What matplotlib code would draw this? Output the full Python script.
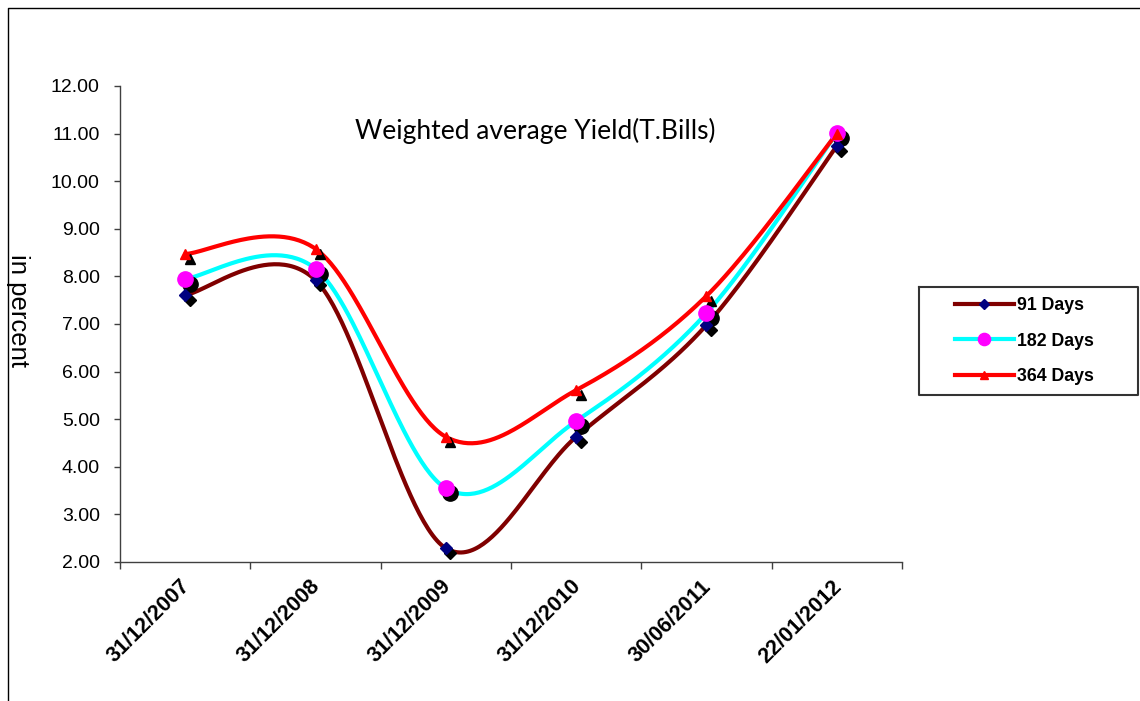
import numpy as np
import matplotlib
matplotlib.use("Agg")
import matplotlib.pyplot as plt
from matplotlib.lines import Line2D
from matplotlib.ticker import MultipleLocator, FormatStrFormatter, FixedLocator, NullFormatter
import matplotlib.transforms as mtransforms

plt.rcParams['font.family'] = ['Liberation Sans', 'DejaVu Sans']

# Data
dates = ["31/12/2007", "31/12/2008", "31/12/2009", "31/12/2010", "30/06/2011", "22/01/2012"]
days_91 = [7.61, 7.92, 2.29, 4.63, 6.98, 10.74]
days_182 = [7.95, 8.16, 3.55, 4.96, 7.23, 11.01]
days_364 = [8.47, 8.58, 4.63, 5.61, 7.59, 11.00]
series_labels = ["91 Days", "182 Days", "364 Days"]


def smooth_curve(xs, ys, n=60):
    """Catmull-Rom style cubic Bezier through the points (spreadsheet 'smoothed line')."""
    P = np.column_stack([xs, ys]).astype(float)
    m = len(P)
    out = []
    for i in range(m - 1):
        p_prev = P[i - 1] if i > 0 else P[i]
        p0 = P[i]
        p1 = P[i + 1]
        p_next = P[i + 2] if i + 2 < m else P[i + 1]
        c1 = p0 + (p1 - p_prev) / 6.0
        c2 = p1 - (p_next - p0) / 6.0
        t = np.linspace(0, 1, n)[:, None]
        seg = ((1 - t) ** 3) * p0 + 3 * ((1 - t) ** 2) * t * c1 + 3 * (1 - t) * t ** 2 * c2 + t ** 3 * p1
        out.append(seg if i == 0 else seg[1:])
    c = np.vstack(out)
    return c[:, 0], c[:, 1]


fig = plt.figure(figsize=(11.4, 7.01), dpi=100)
W, H = 1140, 701
ax = fig.add_axes([120 / W, 1 - 562 / H, (902 - 120) / W, (562 - 86) / H])

x = np.arange(len(dates))

styles = [
    dict(data=days_91, color="#800000", marker="D", mfc="#000080", mec="#000080", ms=6.0),
    dict(data=days_182, color="#00FFFF", marker="o", mfc="#FF00FF", mec="#FF00FF", ms=11.0),
    dict(data=days_364, color="#FF0000", marker="^", mfc="#FF0000", mec="#FF0000", ms=7.0),
]

shadow = mtransforms.offset_copy(ax.transData, fig=fig, x=4.5, y=-5.0, units='dots')

handles = []
for k, st in enumerate(styles):
    sx, sy = smooth_curve(x, st["data"])
    ax.plot(sx, sy, color=st["color"], lw=3.0, solid_capstyle='round', zorder=2 + k * 0.1)
    ax.plot(x, st["data"], ls='none', marker=st["marker"], ms=st["ms"], mfc='black', mec='black',
            transform=shadow, zorder=3 + k * 0.1)
    ax.plot(x, st["data"], ls='none', marker=st["marker"], ms=st["ms"], mfc=st["mfc"], mec=st["mec"],
            zorder=4 + k * 0.1)
    handles.append(Line2D([], [], color=st["color"], lw=3.0, marker=st["marker"],
                          ms=st["ms"] * 0.8, mfc=st["mfc"], mec=st["mec"]))

ax.set_xlim(-0.5, len(dates) - 0.5)
ax.set_ylim(2, 12)

ax.yaxis.set_major_locator(MultipleLocator(1.0))
ax.yaxis.set_major_formatter(FormatStrFormatter('%.2f'))
ax.tick_params(axis='y', direction='out', length=4.5, width=1, color='#404040',
               labelsize=14, pad=10, labelcolor='black')

ax.xaxis.set_major_locator(FixedLocator(np.arange(-0.5, len(dates), 1.0)))
ax.xaxis.set_major_formatter(NullFormatter())
ax.set_xticks(x, minor=True)
ax.set_xticklabels(dates, minor=True, rotation=45, ha='right', fontweight='bold', fontsize=15.5)
ax.tick_params(axis='x', which='major', direction='out', length=5, width=1, color='#404040')
ax.tick_params(axis='x', which='minor', length=0, pad=10)
lab_off = mtransforms.ScaledTranslation(9 / 100, 0, fig.dpi_scale_trans)
for lbl in ax.xaxis.get_minorticklabels():
    lbl.set_transform(lbl.get_transform() + lab_off)

for s in ['top', 'right']:
    ax.spines[s].set_visible(False)
for s in ['left', 'bottom']:
    ax.spines[s].set_color('#404040')
    ax.spines[s].set_linewidth(1.0)

fig.text(535 / W, 1 - 131 / H, "Weighted average Yield(T.Bills)",
         ha='center', va='center', fontsize=19, family=['Lato', 'Liberation Sans'])

fig.text(18 / W, 1 - 310 / H, "in percent", rotation=270, ha='center', va='center', fontsize=18.5)

# Legend frame and entries
fig.add_artist(Line2D([919 / W, 1138 / W, 1138 / W, 919 / W, 919 / W],
                      [1 - 287 / H, 1 - 287 / H, 1 - 395 / H, 1 - 395 / H, 1 - 287 / H],
                      transform=fig.transFigure, color='#333333', lw=1.5))
fig.legend(handles, series_labels, loc='upper left', bbox_to_anchor=(955 / W, 1 - 297 / H),
           bbox_transform=fig.transFigure, frameon=False, borderpad=0, borderaxespad=0,
           handlelength=3.3, handletextpad=0.2, labelspacing=1.05,
           prop=dict(weight='bold', size=12.8))

# Outer border of the chart area
fig.add_artist(Line2D([8 / W, 8 / W, 1.0], [0.0, 1 - 8 / H, 1 - 8 / H],
                      transform=fig.transFigure, color='black', lw=1.0))

fig.savefig("out.png", dpi=100, facecolor='white')
